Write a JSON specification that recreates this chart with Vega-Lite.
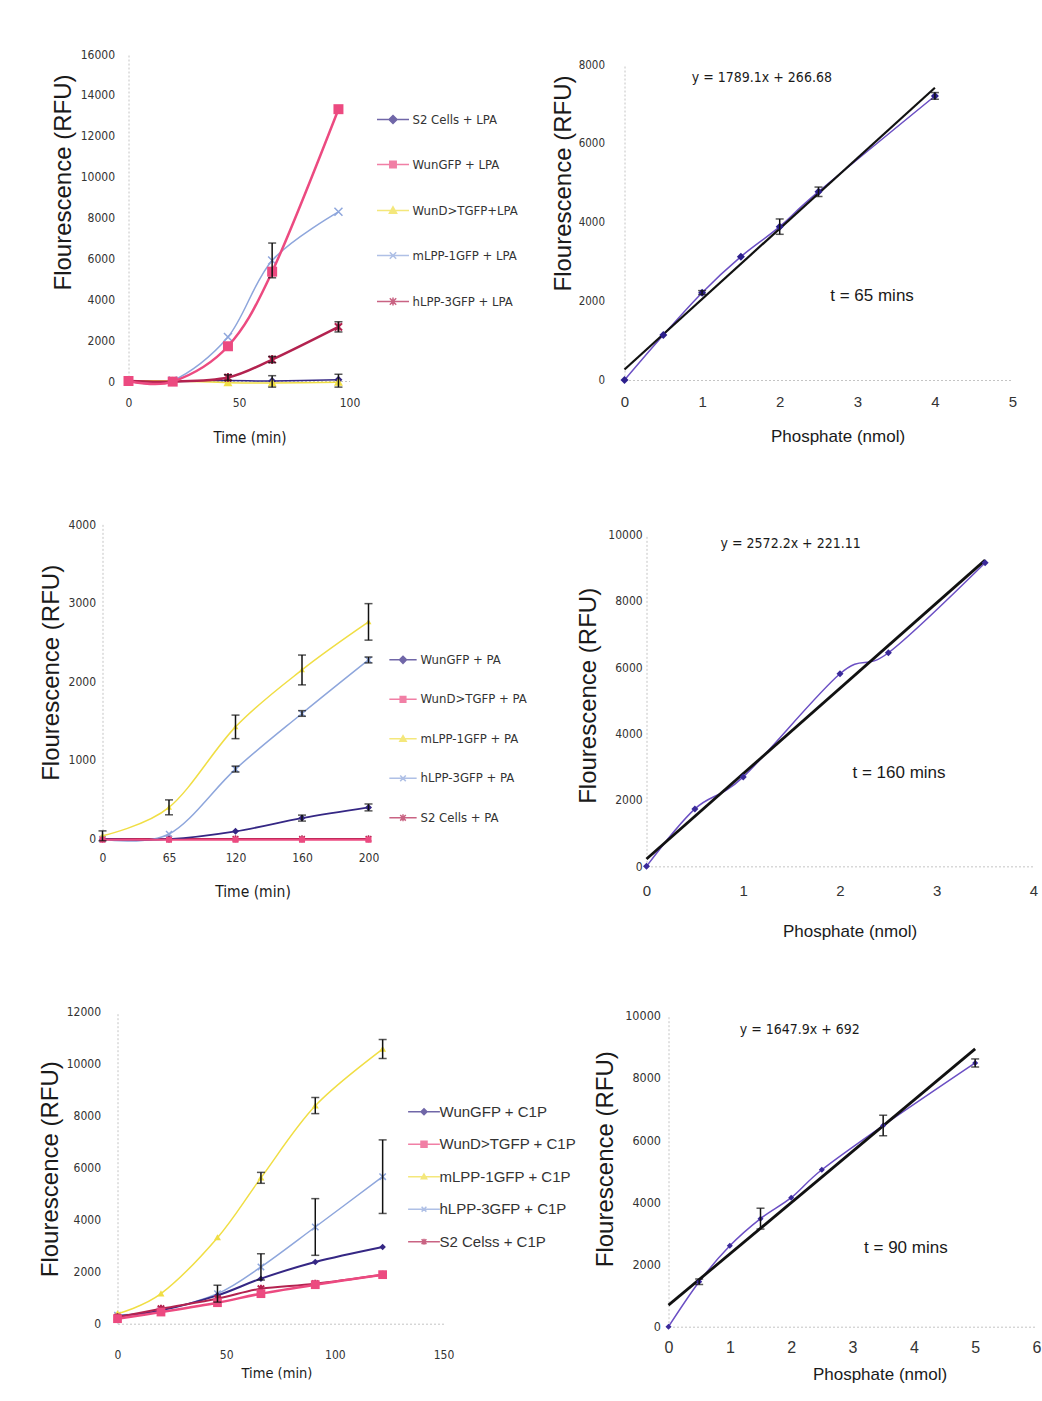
{
  "$schema": "https://vega.github.io/schema/vega-lite/v6.json",
  "background": "white",
  "padding": {"left": 37.5, "top": 48, "right": 0, "bottom": 0},
  "spacing": 66.35,
  "resolve": {"scale": {"color": "independent", "stroke": "independent", "shape": "independent"}},
  "config": {
    "font": "Liberation Sans, Arial, sans-serif",
    "view": {"stroke": null},
    "axis": {"domainColor": "#c4c4c4", "domainDash": [2, 2], "domainWidth": 1, "ticks": false, "tickSize": 0, "grid": false, "labelColor": "#333333", "titleColor": "#1a1a1a", "titleFontWeight": "normal", "labelOverlap": false, "labelFlush": false},
    "legend": {"labelColor": "#333333", "padding": 0, "symbolStrokeWidth": 1.5}
  },
  "vconcat": [
    {
      "bounds": "flush", "spacing": 0,
      "resolve": {"scale": {"color": "independent", "stroke": "independent", "shape": "independent"}},
      "hconcat": [
        {"width": 26, "height": 1, "data": {"values": []}, "mark": "point"},
        {
          "bounds": "flush", "spacing": 275,
          "hconcat": [
            {
              "width": 221, "height": 327,
              "data": {"values": [
                {"s": "S2 Cells + LPA", "t": 0, "v": 0},
                {"s": "S2 Cells + LPA", "t": 20, "v": -20},
                {"s": "S2 Cells + LPA", "t": 45, "v": 20},
                {"s": "S2 Cells + LPA", "t": 65, "v": 0},
                {"s": "S2 Cells + LPA", "t": 95, "v": 60},
                {"s": "WunGFP + LPA", "t": 0, "v": 0},
                {"s": "WunGFP + LPA", "t": 20, "v": -30},
                {"s": "WunGFP + LPA", "t": 45, "v": 1700},
                {"s": "WunGFP + LPA", "t": 65, "v": 5350},
                {"s": "WunGFP + LPA", "t": 95, "v": 13300},
                {"s": "WunD>TGFP+LPA", "t": 0, "v": 0},
                {"s": "WunD>TGFP+LPA", "t": 20, "v": 0},
                {"s": "WunD>TGFP+LPA", "t": 45, "v": -80},
                {"s": "WunD>TGFP+LPA", "t": 65, "v": -100, "lo": -300, "hi": 260},
                {"s": "WunD>TGFP+LPA", "t": 95, "v": -60, "lo": -300, "hi": 330},
                {"s": "mLPP-1GFP + LPA", "t": 0, "v": 0},
                {"s": "mLPP-1GFP + LPA", "t": 20, "v": 20},
                {"s": "mLPP-1GFP + LPA", "t": 45, "v": 2150},
                {"s": "mLPP-1GFP + LPA", "t": 65, "v": 5900, "lo": 5050, "hi": 6750},
                {"s": "mLPP-1GFP + LPA", "t": 95, "v": 8280},
                {"s": "hLPP-3GFP + LPA", "t": 0, "v": 0},
                {"s": "hLPP-3GFP + LPA", "t": 20, "v": -30},
                {"s": "hLPP-3GFP + LPA", "t": 45, "v": 170, "lo": 30, "hi": 310},
                {"s": "hLPP-3GFP + LPA", "t": 65, "v": 1050, "lo": 900, "hi": 1200},
                {"s": "hLPP-3GFP + LPA", "t": 95, "v": 2650, "lo": 2400, "hi": 2900}
              ]},
              "encoding": {
                "x": {"field": "t", "type": "quantitative", "scale": {"domain": [0, 100], "nice": false, "zero": false},
                      "axis": {"values": [0, 50, 100], "title": ["Time (min)", ""], "titleLineHeight": 5.9, "labelFont": "DejaVu Sans Condensed, sans-serif", "labelFontSize": 12, "labelPadding": 16.5, "titleFont": "DejaVu Sans Condensed, sans-serif", "titleFontSize": 15, "titlePadding": 22.25, "titleX": 121}},
                "y": {"field": "v", "type": "quantitative", "scale": {"domain": [0, 16000], "nice": false},
                      "axis": {"values": [0, 2000, 4000, 6000, 8000, 10000, 12000, 14000, 16000], "format": "d", "title": "Flourescence (RFU)", "labelFont": "DejaVu Sans Condensed, sans-serif", "labelFontSize": 12, "labelPadding": 14, "titleFontSize": 24, "titlePadding": 5.1, "titleY": 128}}
              },
              "layer": [
                {"transform": [{"filter": {"field": "s", "equal": "S2 Cells + LPA"}}],
                 "mark": {"type": "line", "interpolate": "cardinal", "color": "#352784", "strokeWidth": 1.5, "point": {"shape": "M0,-1L1,0L0,1L-1,0Z", "filled": true, "size": 64, "color": "#352784"}}},
                {"transform": [{"filter": {"field": "s", "equal": "WunD>TGFP+LPA"}}],
                 "mark": {"type": "line", "interpolate": "cardinal", "color": "#f0de44", "strokeWidth": 1.5, "point": {"shape": "M0,-0.9L0.9,0.7H-0.9Z", "filled": true, "size": 100, "color": "#f0de44"}}},
                {"transform": [{"filter": {"field": "s", "equal": "mLPP-1GFP + LPA"}}],
                 "mark": {"type": "line", "interpolate": "cardinal", "color": "#8ea6dc", "strokeWidth": 1.5, "point": {"shape": "M-0.8,-0.8L0.8,0.8M0.8,-0.8L-0.8,0.8", "filled": false, "size": 100, "strokeWidth": 1.5, "color": "#8ea6dc"}}},
                {"transform": [{"filter": {"field": "s", "equal": "hLPP-3GFP + LPA"}}],
                 "mark": {"type": "line", "interpolate": "cardinal", "color": "#b3224f", "strokeWidth": 2.5, "point": {"shape": "M-0.8,-0.8L0.8,0.8M0.8,-0.8L-0.8,0.8M0,-1V1", "filled": false, "size": 81, "strokeWidth": 2, "color": "#b3224f"}}},
                {"transform": [{"filter": {"field": "s", "equal": "WunGFP + LPA"}}],
                 "mark": {"type": "line", "interpolate": "cardinal", "color": "#ec4a80", "strokeWidth": 2.5, "point": {"shape": "M-0.8,-0.8H0.8V0.8H-0.8Z", "filled": true, "size": 156, "color": "#ec4a80"}}},
                {"transform": [{"filter": "isValid(datum.lo)"}],
                 "mark": {"type": "errorbar", "color": "#111111", "thickness": 1.5, "ticks": {"size": 8}},
                 "encoding": {"y": {"field": "lo", "type": "quantitative", "title": "Flourescence (RFU)"}, "y2": {"field": "hi"}}},
                {"transform": [{"filter": "false"}],
                 "mark": {"type": "point", "filled": true, "strokeWidth": 1.5},
                 "encoding": {
                   "color": {"field": "s", "type": "nominal", "scale": {"domain": ["S2 Cells + LPA", "WunGFP + LPA", "WunD>TGFP+LPA", "mLPP-1GFP + LPA", "hLPP-3GFP + LPA"], "range": ["#352784", "#ec4a80", "#f0de44", "#8ea6dc", "#b3224f"]},
                             "legend": {"orient": "none", "legendX": 258, "legendY": 59, "title": null, "symbolSize": 64, "labelOffset": 13, "rowPadding": 31, "labelFont": "DejaVu Sans Condensed, sans-serif", "labelFontSize": 13, "labelLimit": 400, "padding": 0}},
                   "stroke": {"field": "s", "type": "nominal", "scale": {"domain": ["S2 Cells + LPA", "WunGFP + LPA", "WunD>TGFP+LPA", "mLPP-1GFP + LPA", "hLPP-3GFP + LPA"], "range": ["#352784", "#ec4a80", "#f0de44", "#8ea6dc", "#b3224f"]}},
                   "shape": {"field": "s", "type": "nominal", "scale": {"domain": ["S2 Cells + LPA", "WunGFP + LPA", "WunD>TGFP+LPA", "mLPP-1GFP + LPA", "hLPP-3GFP + LPA"], "range": ["M-4,0H4M0,-1L1,0L0,1L-1,0Z", "M-4,0H4M-0.8,-0.8H0.8V0.8H-0.8Z", "M-4,0H4M0,-0.9L0.9,0.7H-0.9Z", "M-4,0H4M-0.8,-0.8L0.8,0.8M0.8,-0.8L-0.8,0.8", "M-4,0H4M-0.8,-0.8L0.8,0.8M0.8,-0.8L-0.8,0.8M0,-1V1"]}}
                 }}
              ]
            },
            {
              "bounds": "flush", "spacing": 0,
              "vconcat": [
                {"width": 1, "height": 11, "data": {"values": []}, "mark": "point"},
                {
                  "width": 388, "height": 315,
                  "encoding": {
                    "x": {"field": "x", "type": "quantitative", "scale": {"domain": [0, 5], "nice": false},
                          "axis": {"values": [0, 1, 2, 3, 4, 5], "title": "Phosphate (nmol)", "labelFontSize": 15, "labelPadding": 14.75, "titleFontSize": 17, "titlePadding": 18.9, "titleX": 213}},
                    "y": {"field": "y", "type": "quantitative", "scale": {"domain": [0, 8000], "nice": false},
                          "axis": {"values": [0, 2000, 4000, 6000, 8000], "format": "d", "title": "Flourescence (RFU)", "labelFont": "DejaVu Sans Condensed, sans-serif", "labelFontSize": 11.5, "labelPadding": 20, "titleFontSize": 24, "titlePadding": 2.9, "titleY": 118}}
                  },
                  "layer": [
                    {"data": {"values": [{"x": 0, "y": 0}, {"x": 0.5, "y": 1143}, {"x": 1, "y": 2218}, {"x": 1.5, "y": 3132}, {"x": 2, "y": 3894}, {"x": 2.5, "y": 4783}, {"x": 4, "y": 7213}]},
                     "mark": {"type": "line", "interpolate": "cardinal", "color": "#6b4fc4", "strokeWidth": 1.5}},
                    {"data": {"values": [{"x": 0, "y": 266.68}, {"x": 4, "y": 7423.08}]},
                     "mark": {"type": "line", "color": "#111111", "strokeWidth": 2.2}},
                    {"data": {"values": [{"x": 0, "y": 0}, {"x": 0.5, "y": 1143}, {"x": 1, "y": 2218}, {"x": 1.5, "y": 3132}, {"x": 2, "y": 3894}, {"x": 2.5, "y": 4783}, {"x": 4, "y": 7213}]},
                     "mark": {"type": "point", "shape": "M0,-1L1,0L0,1L-1,0Z", "filled": true, "size": 64, "color": "#2c1f8c", "opacity": 1}},
                    {"data": {"values": [{"x": 1, "lo": 2170, "hi": 2270}, {"x": 2, "lo": 3700, "hi": 4090}, {"x": 2.5, "lo": 4660, "hi": 4900}, {"x": 4, "lo": 7130, "hi": 7300}]},
                     "mark": {"type": "errorbar", "color": "#111111", "thickness": 1.5, "ticks": {"size": 8}},
                     "encoding": {"y": {"field": "lo", "type": "quantitative", "title": "Flourescence (RFU)"}, "y2": {"field": "hi"}}},
                    {"data": {"values": [{"x": 1.77, "y": 7670, "label": "y = 1789.1x + 266.68"}]},
                     "mark": {"type": "text", "font": "DejaVu Sans Condensed, sans-serif", "fontSize": 14, "color": "#1a1a1a", "align": "center", "baseline": "middle"},
                     "encoding": {"text": {"field": "label"}}},
                    {"data": {"values": [{"x": 3.19, "y": 2133, "label": "t  = 65 mins"}]},
                     "mark": {"type": "text", "fontSize": 17, "color": "#1a1a1a", "align": "center", "baseline": "middle"},
                     "encoding": {"text": {"field": "label"}}}
                  ]
                }
              ]
            }
          ]
        }
      ]
    },
    {
      "bounds": "flush", "spacing": 278,
      "resolve": {"scale": {"color": "independent", "stroke": "independent", "shape": "independent"}},
      "hconcat": [
        {
          "width": 266, "height": 314,
          "data": {"values": [
            {"s": "WunGFP + PA", "t": "0", "v": -10},
            {"s": "WunGFP + PA", "t": "65", "v": -10},
            {"s": "WunGFP + PA", "t": "120", "v": 89},
            {"s": "WunGFP + PA", "t": "160", "v": 258, "lo": 220, "hi": 296},
            {"s": "WunGFP + PA", "t": "200", "v": 394, "lo": 350, "hi": 438},
            {"s": "WunD>TGFP + PA", "t": "0", "v": -18},
            {"s": "WunD>TGFP + PA", "t": "65", "v": -18},
            {"s": "WunD>TGFP + PA", "t": "120", "v": -18},
            {"s": "WunD>TGFP + PA", "t": "160", "v": -18},
            {"s": "WunD>TGFP + PA", "t": "200", "v": -18},
            {"s": "mLPP-1GFP + PA", "t": "0", "v": 33, "lo": -30, "hi": 95},
            {"s": "mLPP-1GFP + PA", "t": "65", "v": 394, "lo": 300, "hi": 490},
            {"s": "mLPP-1GFP + PA", "t": "120", "v": 1420, "lo": 1270, "hi": 1570},
            {"s": "mLPP-1GFP + PA", "t": "160", "v": 2146, "lo": 1955, "hi": 2335},
            {"s": "mLPP-1GFP + PA", "t": "200", "v": 2757, "lo": 2525, "hi": 2990},
            {"s": "hLPP-3GFP + PA", "t": "0", "v": -10},
            {"s": "hLPP-3GFP + PA", "t": "65", "v": 55},
            {"s": "hLPP-3GFP + PA", "t": "120", "v": 882, "lo": 845, "hi": 920},
            {"s": "hLPP-3GFP + PA", "t": "160", "v": 1591, "lo": 1555, "hi": 1627},
            {"s": "hLPP-3GFP + PA", "t": "200", "v": 2273, "lo": 2235, "hi": 2310},
            {"s": "S2 Cells + PA", "t": "0", "v": -5},
            {"s": "S2 Cells + PA", "t": "65", "v": -5},
            {"s": "S2 Cells + PA", "t": "120", "v": -5},
            {"s": "S2 Cells + PA", "t": "160", "v": -5},
            {"s": "S2 Cells + PA", "t": "200", "v": -5}
          ]},
          "encoding": {
            "x": {"field": "t", "type": "ordinal", "sort": null, "scale": {"type": "point", "padding": 0, "domain": ["0", "65", "120", "160", "200"]},
                  "axis": {"labelAngle": 0, "title": "Time (min)", "labelFont": "DejaVu Sans Condensed, sans-serif", "labelFontSize": 12, "labelPadding": 14.5, "titleFont": "DejaVu Sans Condensed, sans-serif", "titleFontSize": 15.5, "titlePadding": 21, "titleX": 150}},
            "y": {"field": "v", "type": "quantitative", "scale": {"domain": [0, 4000], "nice": false},
                  "axis": {"values": [0, 1000, 2000, 3000, 4000], "format": "d", "title": "Flourescence (RFU)", "labelFont": "DejaVu Sans Condensed, sans-serif", "labelFontSize": 12, "labelPadding": 7, "titleFontSize": 24, "titlePadding": 4.8, "titleY": 148}}
          },
          "layer": [
            {"transform": [{"filter": {"field": "s", "equal": "S2 Cells + PA"}}],
             "mark": {"type": "line", "interpolate": "cardinal", "color": "#b3224f", "strokeWidth": 1.5, "point": {"shape": "M-0.8,-0.8L0.8,0.8M0.8,-0.8L-0.8,0.8M0,-1V1", "filled": false, "size": 49, "strokeWidth": 1.5, "color": "#b3224f"}}},
            {"transform": [{"filter": {"field": "s", "equal": "hLPP-3GFP + PA"}}],
             "mark": {"type": "line", "interpolate": "cardinal", "color": "#8ea6dc", "strokeWidth": 1.5, "point": {"shape": "M-0.8,-0.8L0.8,0.8M0.8,-0.8L-0.8,0.8", "filled": false, "size": 56, "strokeWidth": 1.5, "color": "#8ea6dc"}}},
            {"transform": [{"filter": {"field": "s", "equal": "mLPP-1GFP + PA"}}],
             "mark": {"type": "line", "interpolate": "cardinal", "color": "#f0de44", "strokeWidth": 1.5, "point": {"shape": "M0,-0.9L0.9,0.7H-0.9Z", "filled": true, "size": 44, "color": "#f0de44"}}},
            {"transform": [{"filter": {"field": "s", "equal": "WunGFP + PA"}}],
             "mark": {"type": "line", "interpolate": "cardinal", "color": "#352784", "strokeWidth": 1.8, "point": {"shape": "M0,-1L1,0L0,1L-1,0Z", "filled": true, "size": 49, "color": "#352784"}}},
            {"transform": [{"filter": {"field": "s", "equal": "WunD>TGFP + PA"}}],
             "mark": {"type": "line", "interpolate": "cardinal", "color": "#ec4a80", "strokeWidth": 1.8, "point": {"shape": "M-0.8,-0.8H0.8V0.8H-0.8Z", "filled": true, "size": 56, "color": "#ec4a80"}}},
            {"transform": [{"filter": "isValid(datum.lo)"}],
             "mark": {"type": "errorbar", "color": "#111111", "thickness": 1.5, "ticks": {"size": 8}},
             "encoding": {"y": {"field": "lo", "type": "quantitative", "title": "Flourescence (RFU)"}, "y2": {"field": "hi"}}},
            {"transform": [{"filter": "false"}],
             "mark": {"type": "point", "filled": true, "strokeWidth": 1.5},
             "encoding": {
               "color": {"field": "s", "type": "nominal", "scale": {"domain": ["WunGFP + PA", "WunD>TGFP + PA", "mLPP-1GFP + PA", "hLPP-3GFP + PA", "S2 Cells + PA"], "range": ["#352784", "#ec4a80", "#f0de44", "#8ea6dc", "#b3224f"]},
                         "legend": {"orient": "none", "legendX": 294, "legendY": 129, "title": null, "symbolSize": 49, "labelOffset": 11, "rowPadding": 25.5, "labelFont": "DejaVu Sans Condensed, sans-serif", "labelFontSize": 13, "labelLimit": 400, "padding": 0}},
               "stroke": {"field": "s", "type": "nominal", "scale": {"domain": ["WunGFP + PA", "WunD>TGFP + PA", "mLPP-1GFP + PA", "hLPP-3GFP + PA", "S2 Cells + PA"], "range": ["#352784", "#ec4a80", "#f0de44", "#8ea6dc", "#b3224f"]}},
               "shape": {"field": "s", "type": "nominal", "scale": {"domain": ["WunGFP + PA", "WunD>TGFP + PA", "mLPP-1GFP + PA", "hLPP-3GFP + PA", "S2 Cells + PA"], "range": ["M-3.9,0H3.9M0,-1L1,0L0,1L-1,0Z", "M-3.9,0H3.9M-0.8,-0.8H0.8V0.8H-0.8Z", "M-3.9,0H3.9M0,-0.9L0.9,0.7H-0.9Z", "M-3.9,0H3.9M-0.8,-0.8L0.8,0.8M0.8,-0.8L-0.8,0.8", "M-3.9,0H3.9M-0.8,-0.8L0.8,0.8M0.8,-0.8L-0.8,0.8M0,-1V1"]}}
             }}
          ]
        },
        {
          "bounds": "flush", "spacing": 0,
          "vconcat": [
            {"width": 1, "height": 10, "data": {"values": []}, "mark": "point"},
            {
              "width": 387, "height": 332,
              "encoding": {
                "x": {"field": "x", "type": "quantitative", "scale": {"domain": [0, 4], "nice": false},
                      "axis": {"values": [0, 1, 2, 3, 4], "title": "Phosphate (nmol)", "labelFontSize": 15, "labelPadding": 16.75, "titleFontSize": 17, "titlePadding": 24.9, "titleX": 203}},
                "y": {"field": "y", "type": "quantitative", "scale": {"domain": [0, 10000], "nice": false},
                      "axis": {"values": [0, 2000, 4000, 6000, 8000, 10000], "format": "d", "title": "Flourescence (RFU)", "labelFont": "DejaVu Sans Condensed, sans-serif", "labelFontSize": 12, "labelPadding": 4.3, "titleFontSize": 24, "titlePadding": 7.5, "titleY": 161}}
              },
              "layer": [
                {"data": {"values": [{"x": 0, "y": 0}, {"x": 0.5, "y": 1730}, {"x": 1, "y": 2695}, {"x": 2, "y": 5800}, {"x": 2.5, "y": 6433}, {"x": 3.5, "y": 9147}]},
                 "mark": {"type": "line", "interpolate": "cardinal", "color": "#6b4fc4", "strokeWidth": 1.5}},
                {"data": {"values": [{"x": 0, "y": 221.11}, {"x": 3.5, "y": 9223.81}]},
                 "mark": {"type": "line", "color": "#111111", "strokeWidth": 2.8}},
                {"data": {"values": [{"x": 0, "y": 0}, {"x": 0.5, "y": 1730}, {"x": 1, "y": 2695}, {"x": 2, "y": 5800}, {"x": 2.5, "y": 6433}, {"x": 3.5, "y": 9147}]},
                 "mark": {"type": "point", "shape": "M0,-1L1,0L0,1L-1,0Z", "filled": true, "size": 49, "color": "#3a2a9a", "opacity": 1}},
                {"data": {"values": [{"x": 1.49, "y": 9698, "label": "y = 2572.2x + 221.11"}]},
                 "mark": {"type": "text", "font": "DejaVu Sans Condensed, sans-serif", "fontSize": 14, "color": "#1a1a1a", "align": "center", "baseline": "middle"},
                 "encoding": {"text": {"field": "label"}}},
                {"data": {"values": [{"x": 2.61, "y": 2825, "label": "t = 160 mins"}]},
                 "mark": {"type": "text", "fontSize": 17, "color": "#1a1a1a", "align": "center", "baseline": "middle"},
                 "encoding": {"text": {"field": "label"}}}
              ]
            }
          ]
        }
      ]
    },
    {
      "bounds": "flush", "spacing": 0,
      "resolve": {"scale": {"color": "independent", "stroke": "independent", "shape": "independent"}},
      "hconcat": [
        {"width": 15, "height": 1, "data": {"values": []}, "mark": "point"},
        {
          "bounds": "flush", "spacing": 225,
          "hconcat": [
            {
              "width": 326, "height": 312,
              "data": {"values": [
                {"s": "WunGFP + C1P", "t": 0, "v": 290},
                {"s": "WunGFP + C1P", "t": 20, "v": 512},
                {"s": "WunGFP + C1P", "t": 46, "v": 1090},
                {"s": "WunGFP + C1P", "t": 66, "v": 1732},
                {"s": "WunGFP + C1P", "t": 91, "v": 2375},
                {"s": "WunGFP + C1P", "t": 122, "v": 2952},
                {"s": "WunD>TGFP + C1P", "t": 0, "v": 193},
                {"s": "WunD>TGFP + C1P", "t": 20, "v": 449},
                {"s": "WunD>TGFP + C1P", "t": 46, "v": 808},
                {"s": "WunD>TGFP + C1P", "t": 66, "v": 1155},
                {"s": "WunD>TGFP + C1P", "t": 91, "v": 1500},
                {"s": "WunD>TGFP + C1P", "t": 122, "v": 1886},
                {"s": "mLPP-1GFP + C1P", "t": 0, "v": 385},
                {"s": "mLPP-1GFP + C1P", "t": 20, "v": 1155},
                {"s": "mLPP-1GFP + C1P", "t": 46, "v": 3310},
                {"s": "mLPP-1GFP + C1P", "t": 66, "v": 5609, "lo": 5400, "hi": 5820},
                {"s": "mLPP-1GFP + C1P", "t": 91, "v": 8380, "lo": 8080, "hi": 8700},
                {"s": "mLPP-1GFP + C1P", "t": 122, "v": 10560, "lo": 10200, "hi": 10930},
                {"s": "hLPP-3GFP + C1P", "t": 0, "v": 330},
                {"s": "hLPP-3GFP + C1P", "t": 20, "v": 512},
                {"s": "hLPP-3GFP + C1P", "t": 46, "v": 1155, "lo": 830, "hi": 1480},
                {"s": "hLPP-3GFP + C1P", "t": 66, "v": 2183, "lo": 1680, "hi": 2690},
                {"s": "hLPP-3GFP + C1P", "t": 91, "v": 3720, "lo": 2630, "hi": 4810},
                {"s": "hLPP-3GFP + C1P", "t": 122, "v": 5655, "lo": 4240, "hi": 7070},
                {"s": "S2 Celss + C1P", "t": 0, "v": 250},
                {"s": "S2 Celss + C1P", "t": 20, "v": 577},
                {"s": "S2 Celss + C1P", "t": 46, "v": 962},
                {"s": "S2 Celss + C1P", "t": 66, "v": 1347},
                {"s": "S2 Celss + C1P", "t": 91, "v": 1540},
                {"s": "S2 Celss + C1P", "t": 122, "v": 1886}
              ]},
              "encoding": {
                "x": {"field": "t", "type": "quantitative", "scale": {"domain": [0, 150], "nice": false, "zero": false},
                      "axis": {"values": [0, 50, 100, 150], "title": "Time (min)", "labelFont": "DejaVu Sans Condensed, sans-serif", "labelFontSize": 12, "labelPadding": 25.5, "titleFont": "DejaVu Sans Condensed, sans-serif", "titleFontSize": 14.5, "titlePadding": 6.25, "titleX": 159}},
                "y": {"field": "v", "type": "quantitative", "scale": {"domain": [0, 12000], "nice": false},
                      "axis": {"values": [0, 2000, 4000, 6000, 8000, 10000, 12000], "format": "d", "title": "Flourescence (RFU)", "labelFont": "DejaVu Sans Condensed, sans-serif", "labelFontSize": 12, "labelPadding": 17, "titleFontSize": 24, "titlePadding": 4.1, "titleY": 157}}
              },
              "layer": [
                {"transform": [{"filter": {"field": "s", "equal": "hLPP-3GFP + C1P"}}],
                 "mark": {"type": "line", "interpolate": "cardinal", "color": "#8ea6dc", "strokeWidth": 1.5, "point": {"shape": "M-0.8,-0.8L0.8,0.8M0.8,-0.8L-0.8,0.8", "filled": false, "size": 64, "strokeWidth": 1.5, "color": "#8ea6dc"}}},
                {"transform": [{"filter": {"field": "s", "equal": "mLPP-1GFP + C1P"}}],
                 "mark": {"type": "line", "interpolate": "cardinal", "color": "#f0de44", "strokeWidth": 1.5, "point": {"shape": "M0,-0.9L0.9,0.7H-0.9Z", "filled": true, "size": 60, "color": "#f0de44"}}},
                {"transform": [{"filter": {"field": "s", "equal": "WunGFP + C1P"}}],
                 "mark": {"type": "line", "interpolate": "cardinal", "color": "#352784", "strokeWidth": 2, "point": {"shape": "M0,-1L1,0L0,1L-1,0Z", "filled": true, "size": 42, "color": "#352784"}}},
                {"transform": [{"filter": {"field": "s", "equal": "S2 Celss + C1P"}}],
                 "mark": {"type": "line", "interpolate": "cardinal", "color": "#b3224f", "strokeWidth": 2, "point": {"shape": "M-0.8,-0.8L0.8,0.8M0.8,-0.8L-0.8,0.8M0,-1V1", "filled": false, "size": 64, "strokeWidth": 2, "color": "#b3224f"}}},
                {"transform": [{"filter": {"field": "s", "equal": "WunD>TGFP + C1P"}}],
                 "mark": {"type": "line", "interpolate": "cardinal", "color": "#ec4a80", "strokeWidth": 2.5, "point": {"shape": "M-0.8,-0.8H0.8V0.8H-0.8Z", "filled": true, "size": 120, "color": "#ec4a80"}}},
                {"transform": [{"filter": "isValid(datum.lo)"}],
                 "mark": {"type": "errorbar", "color": "#111111", "thickness": 1.5, "ticks": {"size": 8}},
                 "encoding": {"y": {"field": "lo", "type": "quantitative", "title": "Flourescence (RFU)"}, "y2": {"field": "hi"}}},
                {"transform": [{"filter": "false"}],
                 "mark": {"type": "point", "filled": true, "strokeWidth": 1.5},
                 "encoding": {
                   "color": {"field": "s", "type": "nominal", "scale": {"domain": ["WunGFP + C1P", "WunD>TGFP + C1P", "mLPP-1GFP + C1P", "hLPP-3GFP + C1P", "S2 Celss + C1P"], "range": ["#352784", "#ec4a80", "#f0de44", "#8ea6dc", "#b3224f"]},
                             "legend": {"orient": "none", "legendX": 299, "legendY": 92.5, "title": null, "symbolSize": 36, "labelOffset": 8, "rowPadding": 16.5, "labelFontSize": 15, "labelLimit": 400, "padding": 0}},
                   "stroke": {"field": "s", "type": "nominal", "scale": {"domain": ["WunGFP + C1P", "WunD>TGFP + C1P", "mLPP-1GFP + C1P", "hLPP-3GFP + C1P", "S2 Celss + C1P"], "range": ["#352784", "#ec4a80", "#f0de44", "#8ea6dc", "#b3224f"]}},
                   "shape": {"field": "s", "type": "nominal", "scale": {"domain": ["WunGFP + C1P", "WunD>TGFP + C1P", "mLPP-1GFP + C1P", "hLPP-3GFP + C1P", "S2 Celss + C1P"], "range": ["M-5.3,0H5.3M0,-1L1,0L0,1L-1,0Z", "M-5.3,0H5.3M-1,-1H1V1H-1Z", "M-5.3,0H5.3M0,-0.9L0.9,0.7H-0.9Z", "M-5.3,0H5.3M-0.8,-0.8L0.8,0.8M0.8,-0.8L-0.8,0.8", "M-5.3,0H5.3M-0.8,-0.8L0.8,0.8M0.8,-0.8L-0.8,0.8M0,-1V1"]}}
                 }}
              ]
            },
            {
              "bounds": "flush", "spacing": 0,
              "vconcat": [
                {"width": 1, "height": 4, "data": {"values": []}, "mark": "point"},
                {
                  "width": 368, "height": 311,
                  "encoding": {
                    "x": {"field": "x", "type": "quantitative", "scale": {"domain": [0, 6], "nice": false},
                          "axis": {"values": [0, 1, 2, 3, 4, 5, 6], "title": "Phosphate (nmol)", "labelFontSize": 16, "labelPadding": 13.2, "titleFontSize": 17, "titlePadding": 10.45, "titleX": 211}},
                    "y": {"field": "y", "type": "quantitative", "scale": {"domain": [0, 10000], "nice": false},
                          "axis": {"values": [0, 2000, 4000, 6000, 8000, 10000], "format": "d", "title": "Flourescence (RFU)", "labelFont": "DejaVu Sans Condensed, sans-serif", "labelFontSize": 12.5, "labelPadding": 8, "titleFontSize": 24, "titlePadding": 7.7, "titleY": 143}}
                  },
                  "layer": [
                    {"data": {"values": [{"x": 0, "y": 0}, {"x": 0.5, "y": 1444}, {"x": 1, "y": 2600}, {"x": 1.5, "y": 3475}, {"x": 2, "y": 4148}, {"x": 2.5, "y": 5047}, {"x": 3.5, "y": 6469}, {"x": 5, "y": 8480}]},
                     "mark": {"type": "line", "interpolate": "cardinal", "color": "#6b4fc4", "strokeWidth": 1.5}},
                    {"data": {"values": [{"x": 0, "y": 692}, {"x": 5, "y": 8931.5}]},
                     "mark": {"type": "line", "color": "#111111", "strokeWidth": 2.8}},
                    {"data": {"values": [{"x": 0, "y": 0}, {"x": 0.5, "y": 1444}, {"x": 1, "y": 2600}, {"x": 1.5, "y": 3475}, {"x": 2, "y": 4148}, {"x": 2.5, "y": 5047}, {"x": 3.5, "y": 6469}, {"x": 5, "y": 8480}]},
                     "mark": {"type": "point", "shape": "M0,-1L1,0L0,1L-1,0Z", "filled": true, "size": 36, "color": "#3a2a9a", "opacity": 1}},
                    {"data": {"values": [{"x": 0.5, "lo": 1360, "hi": 1530}, {"x": 1.5, "lo": 3140, "hi": 3810}, {"x": 3.5, "lo": 6140, "hi": 6800}, {"x": 5, "lo": 8350, "hi": 8610}]},
                     "mark": {"type": "errorbar", "color": "#111111", "thickness": 1.5, "ticks": {"size": 8}},
                     "encoding": {"y": {"field": "lo", "type": "quantitative", "title": "Flourescence (RFU)"}, "y2": {"field": "hi"}}},
                    {"data": {"values": [{"x": 2.14, "y": 9538, "label": "y = 1647.9x + 692"}]},
                     "mark": {"type": "text", "font": "DejaVu Sans Condensed, sans-serif", "fontSize": 14, "color": "#1a1a1a", "align": "center", "baseline": "middle"},
                     "encoding": {"text": {"field": "label"}}},
                    {"data": {"values": [{"x": 3.87, "y": 2544, "label": "t = 90 mins"}]},
                     "mark": {"type": "text", "fontSize": 17, "color": "#1a1a1a", "align": "center", "baseline": "middle"},
                     "encoding": {"text": {"field": "label"}}}
                  ]
                }
              ]
            }
          ]
        }
      ]
    }
  ]
}
